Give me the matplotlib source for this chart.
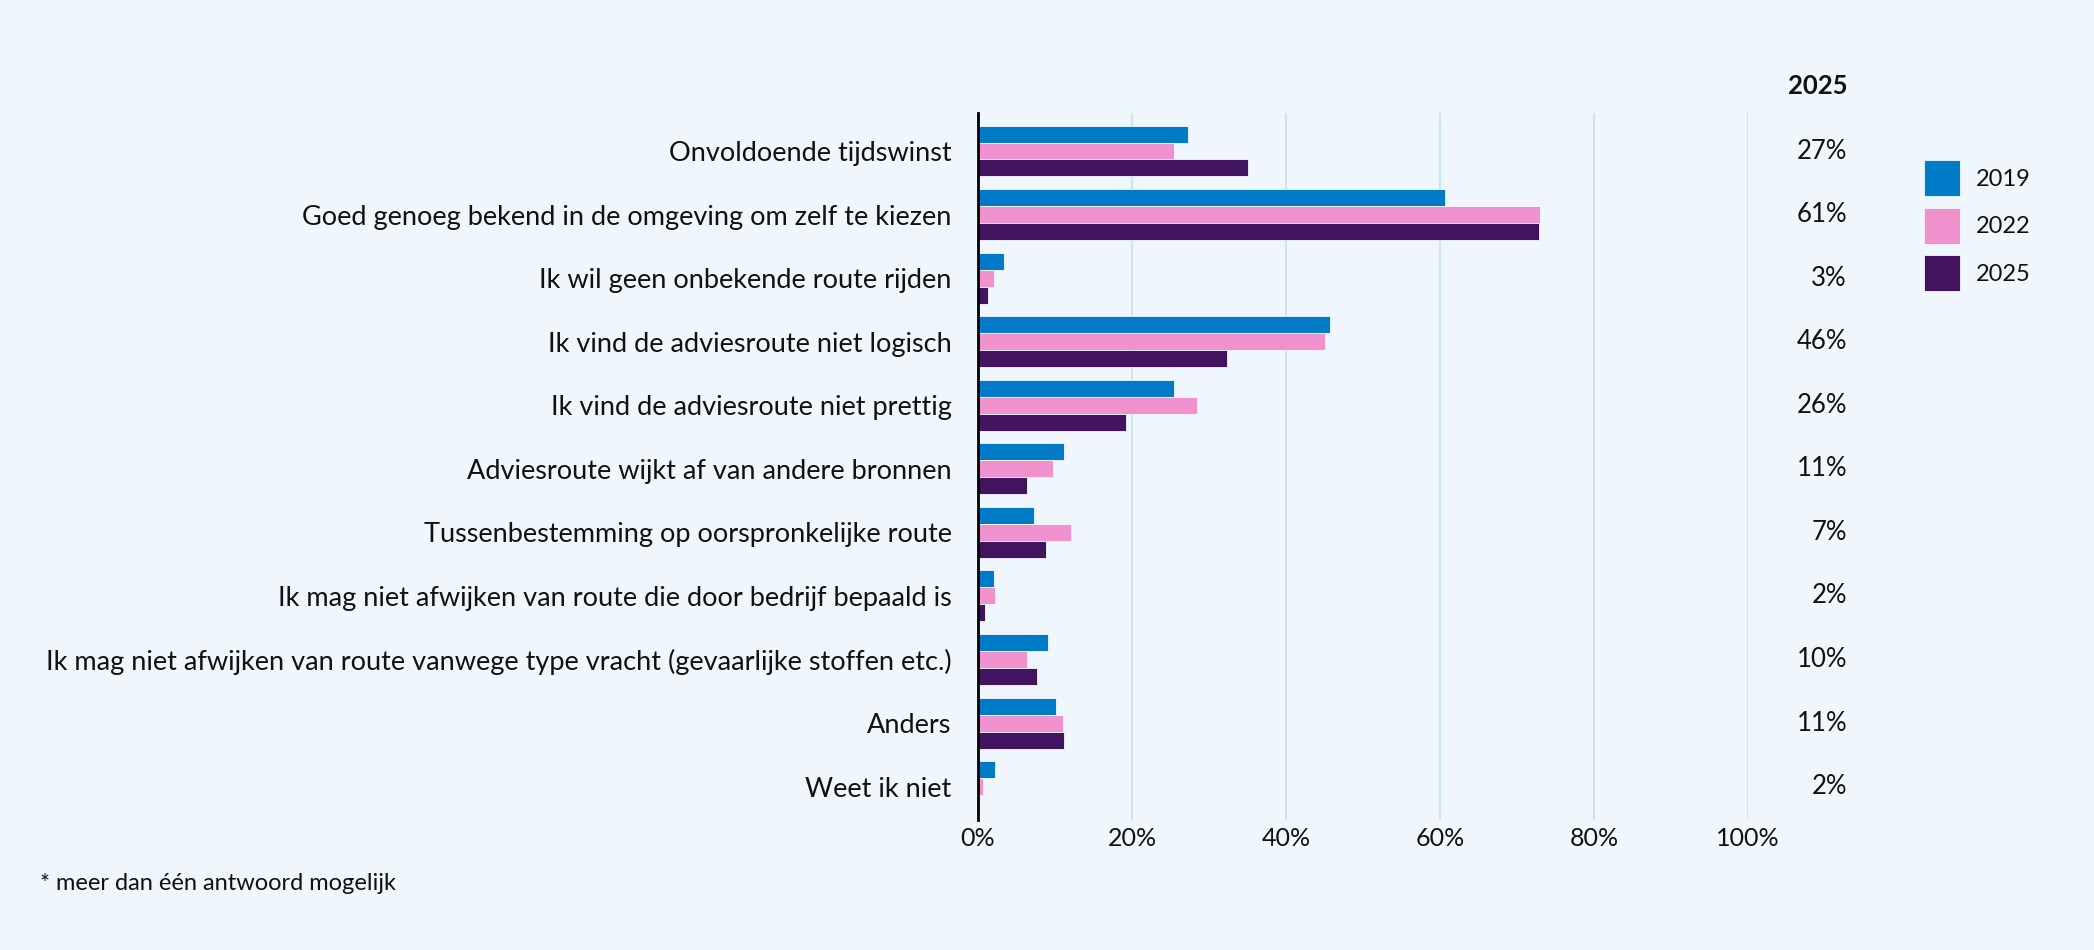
import matplotlib
matplotlib.use("Agg")
import matplotlib.pyplot as plt
import numpy as np
from matplotlib.transforms import blended_transform_factory

plt.rcParams['font.family'] = ['Lato', 'DejaVu Sans']

categories = [
    "Onvoldoende tijdswinst",
    "Goed genoeg bekend in de omgeving om zelf te kiezen",
    "Ik wil geen onbekende route rijden",
    "Ik vind de adviesroute niet logisch",
    "Ik vind de adviesroute niet prettig",
    "Adviesroute wijkt af van andere bronnen",
    "Tussenbestemming op oorspronkelijke route",
    "Ik mag niet afwijken van route die door bedrijf bepaald is",
    "Ik mag niet afwijken van route vanwege type vracht (gevaarlijke stoffen etc.)",
    "Anders",
    "Weet ik niet",
]
years = ["2019", "2022", "2025"]
v2019 = [27.3, 60.6, 3.4, 45.7, 25.5, 11.2, 7.3, 2.1, 9.1, 10.1, 2.2]
v2022 = [25.4, 73.0, 2.1, 45.0, 28.4, 9.8, 12.1, 2.2, 6.4, 11.0, 0.6]
v2025 = [35.0, 72.8, 1.3, 32.4, 19.2, 6.4, 8.8, 0.9, 7.6, 11.2, 0.0]
labels_2025 = ["27%", "61%", "3%", "46%", "26%", "11%", "7%", "2%", "10%", "11%", "2%"]
xticks = [0, 20, 40, 60, 80, 100]

bg = "#eff7fd"
colors = ["#007bc7", "#f092cd", "#42145f"]
txt = "#111111"

W, H = 2094, 950
fig = plt.figure(figsize=(W / 100, H / 100), dpi=100, facecolor=bg)
ax = fig.add_axes([978 / W, 1 - 820 / H, (1748 - 978) / W, (820 - 113) / H])
ax.set_facecolor(bg)

y = np.arange(len(categories))
bh = 0.267
series = [v2019, v2022, v2025]
bars = []
for k, (vals, c) in enumerate(zip(series, colors)):
    b = ax.barh(y + (k - 1) * bh, vals, height=bh, color=c,
                edgecolor="#f4f8ff", linewidth=0.6, zorder=3)
    bars.append(b)

ax.set_xlim(0, 100)
ax.set_ylim(10.525, -0.598)
ax.set_xticks(xticks)
ax.set_xticklabels([f"{v}%" for v in xticks], fontsize=18, color=txt)
ax.set_yticks(y)
ax.set_yticklabels(categories, fontsize=19.5, color=txt)
ax.tick_params(axis="x", length=0, pad=5)
ax.tick_params(axis="y", length=0, pad=19)
ax.grid(axis="x", color="#cde4ef", linewidth=1.4, zorder=0)
ax.set_axisbelow(True)
for s in ["top", "right", "bottom"]:
    ax.spines[s].set_visible(False)
ax.spines["left"].set_color("black")
ax.spines["left"].set_linewidth(2)
ax.spines["left"].set_zorder(5)

# kolom met 2025-waarden rechts
tr = blended_transform_factory(fig.transFigure, ax.transData)
for i, lab in enumerate(labels_2025):
    ax.text(1847 / W, i, lab, transform=tr, ha="right", va="center",
            fontsize=18.5, color=txt)
fig.text(1848 / W, 1 - 86 / H, "2025", ha="right", va="center",
         fontsize=18.5, fontweight="bold", color=txt)

fig.legend(bars, years, loc="upper left", bbox_to_anchor=(1924 / W, 1 - 160 / H),
           frameon=False, borderpad=0, borderaxespad=0, fontsize=17,
           handlelength=1.52, handleheight=1.97, labelspacing=0.49,
           handletextpad=0.68, labelcolor=txt)

fig.text(40 / W, 1 - 883 / H, "* meer dan één antwoord mogelijk",
         ha="left", va="center", fontsize=17, color=txt)

fig.savefig("out.png", dpi=100, facecolor=bg)
